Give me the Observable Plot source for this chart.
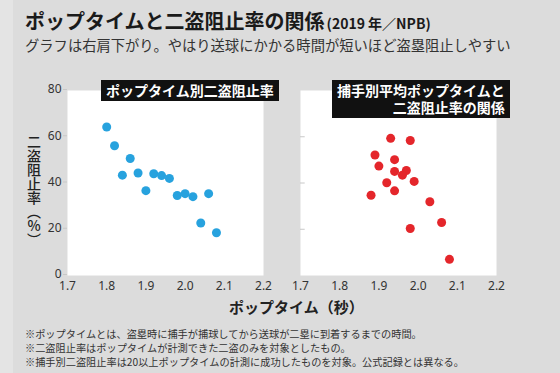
<!DOCTYPE html>
<html><head><meta charset="utf-8">
<script src="https://cdn.jsdelivr.net/npm/d3@7"></script>
<script src="https://cdn.jsdelivr.net/npm/@observablehq/plot@0.6"></script>
<style>
html,body{margin:0;padding:0;}
body{width:560px;height:373px;overflow:hidden;font-family:"Noto Sans CJK JP","Noto Sans",sans-serif;}
#wrap{position:relative;width:560px;height:373px;background:#dcdcdc;color:#222;}
#strip{position:absolute;left:0;top:0;width:13px;height:373px;background:#e4e4e4;}
.abs{position:absolute;white-space:nowrap;}
#title{left:25px;top:8px;font-size:20px;font-weight:700;line-height:26px;color:#1a1a1a;}
#title small{font-size:14px;font-weight:700;margin-left:2px;}
#sub{left:25px;top:36px;font-size:14.3px;line-height:18px;color:#333;}
.ptitle{position:absolute;background:#111;color:#fff;font-weight:700;font-size:14px;line-height:17px;padding:2px 5px;text-align:right;}
#ylab{left:24px;top:135px;writing-mode:vertical-rl;text-orientation:upright;font-size:14px;font-weight:500;color:#222;}
#xlab{left:229px;top:296px;font-size:15px;font-weight:700;color:#222;}
#notes{left:25px;top:327px;font-size:10.2px;line-height:14px;color:#333;}
</style></head>
<body>
<div id="wrap">
<div id="strip"></div>
<div id="title" class="abs">ポップタイムと二盗阻止率の関係<small>(2019 年／NPB)</small></div>
<div id="sub" class="abs">グラフは右肩下がり。やはり送球にかかる時間が短いほど盗塁阻止しやすい</div>
<div id="p1" class="abs" style="left:0;top:80px;"></div>
<div id="p2" class="abs" style="left:250px;top:80px;"></div>
<div class="ptitle" style="left:101px;top:80px;">ポップタイム別二盗阻止率</div>
<div class="ptitle" style="left:332px;top:80px;">捕手別平均ポップタイムと<br>二盗阻止率の関係</div>
<div id="ylab" class="abs">二盗阻止率（%）</div>
<div id="xlab" class="abs">ポップタイム（秒）</div>
<div id="notes" class="abs">※ポップタイムとは、盗塁時に捕手が捕球してから送球が二塁に到着するまでの時間。<br>※二盗阻止率はポップタイムが計測できた二盗のみを対象としたもの。<br>※捕手別二盗阻止率は20以上ポップタイムの計測に成功したものを対象。公式記録とは異なる。</div>
</div>
<script>
// Left panel: pop time bins vs caught stealing rate
const binTime = [1.80,1.82,1.84,1.86,1.88,1.90,1.92,1.94,1.96,1.98,2.00,2.02,2.04,2.06,2.08];
const binRate = [64.2,56.1,43.4,50.6,44.3,36.7,44.0,43.2,42.0,34.6,35.4,34.1,22.7,35.4,18.5];
// Right panel: catcher average pop time vs caught stealing rate
const catcherTime = [1.93,1.98,1.89,1.94,1.90,1.94,1.97,1.96,1.99,1.92,1.94,1.88,2.03,2.06,1.98,2.08];
const catcherRate = [59.3,58.4,52.1,50.1,47.3,45.0,45.4,43.4,40.7,40.1,36.6,34.7,31.9,22.9,20.3,7.0];
const xTicks = [1.7,1.8,1.9,2.0,2.1,2.2];
const yTicks = [0,20,40,60,80];

function panel(xs, ys, color, showY, ml){
  const data = xs.map((x,i)=>({x, y: ys[i]}));
  return Plot.plot({
    width: ml + 196 + 12, height: 220,
    marginLeft: ml, marginRight: 12, marginTop: 10, marginBottom: 25,
    style: {background: "transparent", fontFamily: "'Noto Sans','Noto Sans CJK JP',sans-serif", fontSize: "12px", color: "#333"},
    x: {domain: [1.7, 2.2], ticks: xTicks, tickFormat: d3.format(".1f"), label: null, axis: null},
    y: {domain: [0, 80], ticks: yTicks, label: null, axis: null},
    marks: [
      Plot.frame({fill: "white", stroke: "none"}),
      Plot.axisX({ticks: xTicks, tickSize: 0, tickPadding: 6, tickFormat: d3.format(".1f"), fill: "#333", fontSize: 12, label: null}),
      showY
        ? Plot.axisY({ticks: yTicks, tickSize: 4, tickPadding: 2, stroke: "#c8c8c8", fill: "#333", fontSize: 12, label: null, dy: -1})
        : Plot.ruleY(yTicks.slice(1,4), {x1: 1.7, x2: 1.712, stroke: "#c8c8c8"}),
      Plot.dot(data, {x: "x", y: "y", r: 4.5, fill: color, stroke: "none"})
    ]
  });
}
document.getElementById("p1").append(panel(binTime, binRate, "#27a2de", true, 67));
document.getElementById("p2").append(panel(catcherTime, catcherRate, "#e4262b", false, 50));
</script>
</body></html>
